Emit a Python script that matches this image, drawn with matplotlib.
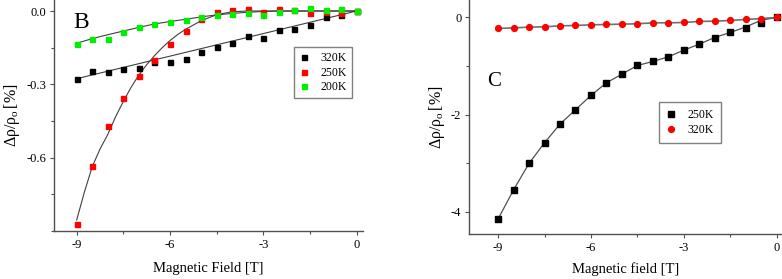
import numpy as np
import matplotlib
matplotlib.use("Agg")
import matplotlib.pyplot as plt
from matplotlib.ticker import MultipleLocator

plt.rcParams['font.family'] = ['Liberation Serif', 'DejaVu Serif']
plt.rcParams['mathtext.fontset'] = 'custom'
plt.rcParams['mathtext.rm'] = 'Liberation Serif'
plt.rcParams['mathtext.it'] = 'Liberation Serif'
plt.rcParams['axes.unicode_minus'] = False

# field values (T)
field = [-9, -8.5, -8, -7.5, -7, -6.5, -6, -5.5, -5, -4.5, -4,
         -3.5, -3, -2.5, -2, -1.5, -1, -0.5, 0]

# panel B data
b_320 = [-0.280, -0.245, -0.250, -0.237, -0.232, -0.210, -0.209, -0.198, -0.169, -0.146,
         -0.132, -0.101, -0.109, -0.076, -0.072, -0.057, -0.023, -0.015, 0.0]
b_250 = [-0.873, -0.635, -0.472, -0.357, -0.266, -0.200, -0.134, -0.082, -0.034, -0.004,
         0.005, 0.010, -0.004, 0.008, 0.004, -0.007, -0.004, -0.007, 0.0]
b_200 = [-0.136, -0.113, -0.113, -0.087, -0.064, -0.055, -0.045, -0.038, -0.025, -0.018,
         -0.011, -0.010, -0.018, -0.005, 0.004, 0.012, 0.004, 0.008, 0.0]

# fitted curves in panel B
b_fit_320_x = [-9, 0]
b_fit_320 = [-0.277, 0.0]
b_fit_250_x = [-9, -8.75, -8.5, -8.25, -8, -7.75, -7.5, -7.25, -7, -6.75, -6.5, -6.25,
               -6, -5.75, -5.5, -5, -4.5, -4, -3.5, 0]
b_fit_250 = [-0.855, -0.740, -0.637, -0.565, -0.505, -0.433, -0.370, -0.312, -0.262, -0.220,
             -0.183, -0.150, -0.121, -0.096, -0.075, -0.040, -0.015, -0.003, 0.0, 0.0]
b_fit_200 = [-0.132, -0.113, -0.097, -0.082, -0.067, -0.053, -0.043, -0.034, -0.024, -0.016,
             -0.010, -0.005, -0.002, 0.0, 0.0, 0.0, 0.0, 0.0, 0.0]

# panel C data
c_250 = [-4.15, -3.55, -3.005, -2.58, -2.195, -1.90, -1.605, -1.345, -1.166, -0.988,
         -0.906, -0.81, -0.672, -0.549, -0.419, -0.302, -0.213, -0.117, 0.0]
c_320 = [-0.226, -0.213, -0.199, -0.192, -0.172, -0.165, -0.151, -0.144, -0.137, -0.130,
         -0.110, -0.110, -0.103, -0.082, -0.075, -0.062, -0.041, -0.021, 0.0]
c_fit_250 = [-4.15, -3.55, -3.005, -2.58, -2.195, -1.90, -1.605, -1.345, -1.166, -0.988,
             -0.906, -0.81, -0.672, -0.549, -0.41, -0.31, -0.194, -0.056, 0.0]

spine_col = '#505050'
ylab = r'$\Delta\rho/\rho_{o}\,$[%]'

fig = plt.figure(figsize=(7.82, 2.79), dpi=100)
axB = fig.add_axes([0.069, 0.172, 0.395, 0.828])
axC = fig.add_axes([0.5997, 0.161, 0.4003, 0.839])

for ax in (axB, axC):
    for s in ('top', 'right'):
        ax.spines[s].set_visible(False)
    for s in ('left', 'bottom'):
        ax.spines[s].set_color(spine_col)
        ax.spines[s].set_linewidth(1.0)
    ax.tick_params(which='major', direction='out', length=3, width=0.8,
                   color=spine_col, labelsize=9, pad=2.5)
    ax.tick_params(which='minor', direction='out', length=2, width=0.8, color=spine_col)
    ax.xaxis.set_major_locator(MultipleLocator(3))
    ax.xaxis.set_minor_locator(MultipleLocator(1.5))

# panel B
axB.plot(b_fit_320_x, b_fit_320, color='#404040', lw=0.8, zorder=1)
axB.plot(b_fit_250_x, b_fit_250, color='#404040', lw=0.8, zorder=1)
axB.plot(field, b_fit_200, color='#404040', lw=0.8, zorder=1)
axB.plot(field, b_320, ls='none', marker='s', ms=3.6, color='black', label='320K', zorder=3)
axB.plot(field, b_250, ls='none', marker='s', ms=3.6, color='#ff0000', label='250K', zorder=3)
axB.plot(field, b_200, ls='none', marker='s', ms=3.6, color='#00ee00', label='200K', zorder=3)
axB.set_xlim(-9.73, 0.2)
axB.set_ylim(-0.9, 0.045)
axB.yaxis.set_minor_locator(MultipleLocator(0.15))
axB.set_yticks([0.0, -0.3, -0.6])
axB.set_yticklabels(['0.0', '-0.3', '-0.6'])
axB.set_xlabel('Magnetic Field [T]', fontsize=10.5, labelpad=8)
axB.set_ylabel(ylab, fontsize=11.5, labelpad=3)
axB.text(-9.12, -0.07, 'B', fontsize=17)
axB.legend(loc='upper left', bbox_to_anchor=(294 / 782, 1 - 47 / 279),
           bbox_transform=fig.transFigure, fontsize=8.5, frameon=True, fancybox=False,
           edgecolor='#606060', handlelength=0.8, handletextpad=1.0, borderpad=0.45,
           labelspacing=0.2, borderaxespad=0)

# panel C
axC.plot(field, c_fit_250, color='#505050', lw=0.9, zorder=1)
axC.plot(field, c_320, color='#707070', lw=1.2, zorder=1)
axC.plot(field, c_250, ls='none', marker='s', ms=3.8, color='black', label='250K', zorder=3)
axC.plot(field, c_320, ls='none', marker='o', ms=4.2, color='#ff0000', label='320K', zorder=3)
axC.set_xlim(-9.94, 0.17)
axC.set_ylim(-4.46, 0.36)
axC.yaxis.set_major_locator(MultipleLocator(2))
axC.yaxis.set_minor_locator(MultipleLocator(1))
axC.set_xlabel('Magnetic field [T]', fontsize=10.5, labelpad=6)
axC.set_ylabel(ylab, fontsize=11.5, labelpad=3)
axC.text(-9.36, -1.41, 'C', fontsize=15)
axC.legend(loc='upper left', bbox_to_anchor=(659 / 782, 1 - 102 / 279),
           bbox_transform=fig.transFigure, fontsize=8.5, frameon=True, fancybox=False,
           edgecolor='#606060', handlelength=0.8, handletextpad=1.0, borderpad=0.6,
           labelspacing=0.25, borderaxespad=0)

fig.savefig('out.png', dpi=100)
